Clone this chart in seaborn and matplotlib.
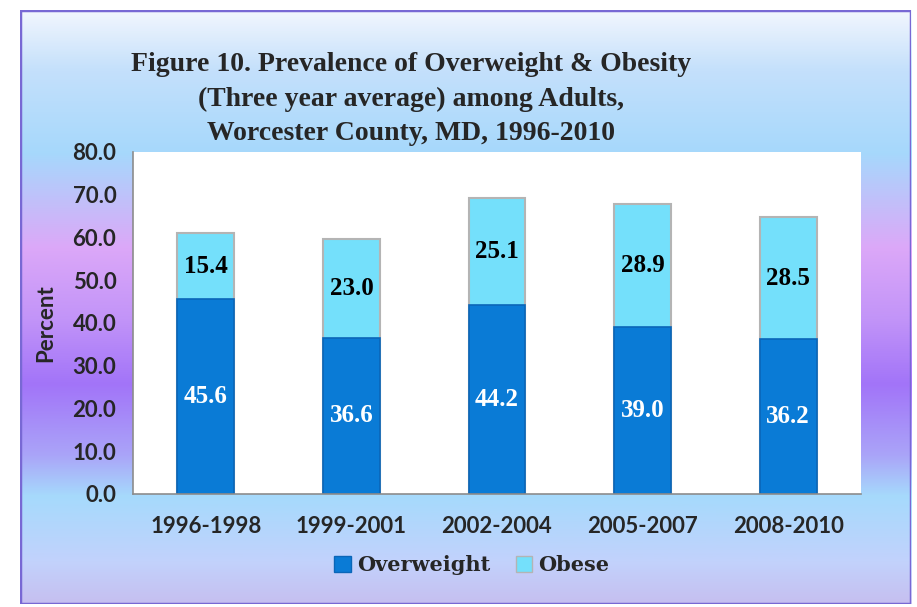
import matplotlib.pyplot as plt
import numpy as np
import pandas as pd
import seaborn as sns
from matplotlib.colors import LinearSegmentedColormap
from matplotlib.patches import Patch, Rectangle

# Chart values
PERIODS = ["1996-1998", "1999-2001", "2002-2004", "2005-2007", "2008-2010"]
OVERWEIGHT = [45.6, 36.6, 44.2, 39.0, 36.2]
OBESE = [15.4, 23.0, 25.1, 28.9, 28.5]
Y_TICKS = [0, 10, 20, 30, 40, 50, 60, 70, 80]

TITLE = (
    "Figure 10. Prevalence of Overweight & Obesity\n"
    "(Three year average) among Adults,\n"
    "Worcester County, MD, 1996-2010"
)
OVERWEIGHT_COLOR = "#0a7bd6"
OBESE_COLOR = "#74e0fb"

# Background gradient stops (position from top, colour)
BG_STOPS = [
    (0.00, "#f2f6fe"),
    (0.10, "#c4e0fb"),
    (0.24, "#a6d8fc"),
    (0.40, "#dca8f8"),
    (0.52, "#c294f8"),
    (0.63, "#a274f8"),
    (0.75, "#aaa4f8"),
    (0.82, "#a6dafc"),
    (0.93, "#c2d2fc"),
    (1.00, "#c6bff0"),
]


def main():
    sns.set_style("white")
    plt.rcParams.update({"font.family": ["Lato", "DejaVu Sans"]})

    fig = plt.figure(figsize=(9.17, 6.07), dpi=100)

    # gradient panel behind everything
    bg = fig.add_axes([20 / 917, 3 / 607, 891 / 917, 594 / 607], zorder=0)
    cmap = LinearSegmentedColormap.from_list("bg", BG_STOPS)
    bg.imshow(
        np.linspace(0, 1, 256)[:, None],
        aspect="auto",
        cmap=cmap,
        extent=(0, 1, 0, 1),
        origin="upper",
    )
    bg.add_patch(
        Rectangle(
            (0, 0), 1, 1, transform=bg.transAxes, fill=False,
            edgecolor="#7868d4", linewidth=2.5,
        )
    )
    bg.set_axis_off()

    ax = fig.add_axes(
        [133 / 917, (607 - 494) / 607, (861 - 133) / 917, (494 - 152) / 607],
        zorder=1,
    )
    ax.set_facecolor("white")

    df = pd.DataFrame(
        {
            "Period": PERIODS,
            "Overweight": OVERWEIGHT,
            "Obese": OBESE,
        }
    )
    df["Total"] = df["Overweight"] + df["Obese"]

    sns.barplot(
        data=df, x="Period", y="Total", color=OBESE_COLOR, saturation=1,
        width=0.39, edgecolor="#b4b4b4", linewidth=1.5, ax=ax,
    )
    sns.barplot(
        data=df, x="Period", y="Overweight", color=OVERWEIGHT_COLOR,
        saturation=1, width=0.39, edgecolor="#0a66b8", linewidth=1.2, ax=ax,
    )

    ax.bar_label(
        ax.containers[1], labels=[f"{v:.1f}" for v in OVERWEIGHT],
        label_type="center", color="white", fontsize=18, fontweight="bold",
        family="Liberation Serif",
    )
    for i, (ow, ob) in enumerate(zip(OVERWEIGHT, OBESE)):
        ax.text(
            i, ow + ob / 2, f"{ob:.1f}", ha="center", va="center",
            color="black", fontsize=18, fontweight="bold",
            family="Liberation Serif",
        )

    ax.set_ylim(0, 80)
    ax.set_xlim(-0.5, len(PERIODS) - 0.5)
    ax.set_yticks(Y_TICKS)
    ax.set_yticklabels([f"{v:.1f}" for v in Y_TICKS])
    ax.set_xticks(range(len(PERIODS)))
    ax.set_xticklabels(PERIODS)
    ax.set_xticks(np.arange(-0.5, len(PERIODS)), minor=True)
    ax.tick_params(axis="x", which="major", length=0, pad=16)
    ax.tick_params(axis="x", which="minor", length=8, color="#8c8c8c",
                   direction="out")
    ax.tick_params(axis="y", length=7, color="#8c8c8c", direction="out",
                   pad=5)
    for label in ax.get_xticklabels() + ax.get_yticklabels():
        label.set_fontsize(16)
        label.set_fontweight("bold")
    ax.set_xlabel("")
    ax.set_ylabel("Percent", fontsize=16, fontweight="bold", labelpad=12)
    for side in ("top", "right"):
        ax.spines[side].set_visible(False)
    for side in ("left", "bottom"):
        ax.spines[side].set_color("#8c8c8c")
        ax.spines[side].set_linewidth(1.2)

    fig.text(
        411 / 917, 1 - 99 / 607, TITLE, ha="center", va="center",
        fontsize=20, fontweight="bold", family="Liberation Serif",
        linespacing=1.5,
    )

    handles = [
        Patch(facecolor=OVERWEIGHT_COLOR, edgecolor="#0a66b8",
              label="Overweight"),
        Patch(facecolor=OBESE_COLOR, edgecolor="#b4b4b4", label="Obese"),
    ]
    fig.legend(
        handles=handles, loc="center", bbox_to_anchor=(472 / 917, 1 - 565 / 607),
        ncol=2, frameon=False, handlelength=0.8, handleheight=0.8,
        handletextpad=0.3, columnspacing=1.2,
        prop={"family": "DejaVu Serif", "weight": "bold", "size": 15},
    )

    fig.savefig("out.png", dpi=100)


if __name__ == "__main__":
    main()
